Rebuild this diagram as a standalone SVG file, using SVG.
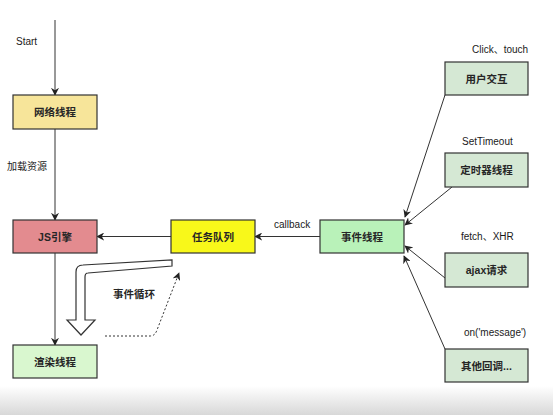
<svg xmlns="http://www.w3.org/2000/svg" width="553" height="415" viewBox="0 0 553 415">
<defs>
<style>
.box{stroke:#333;stroke-width:1.2}
.t{font-family:"Liberation Sans","Noto Sans CJK SC",sans-serif;font-size:10.5px;font-weight:bold;fill:#262626;text-anchor:middle;dominant-baseline:central}
.l{font-family:"Liberation Sans","Noto Sans CJK SC",sans-serif;font-size:10px;fill:#1a1a1a;dominant-baseline:central}
.e{fill:none;stroke:#333;stroke-width:1}
</style>
<marker id="ah" viewBox="0 0 10 10" refX="9" refY="5" markerWidth="8" markerHeight="8" orient="auto" markerUnits="userSpaceOnUse">
<path d="M0,0 L10,5 L0,10 L3,5 Z" fill="#222"/>
</marker>
<linearGradient id="bg" x1="0" y1="0" x2="0" y2="1">
<stop offset="0" stop-color="#ffffff"/>
<stop offset="1" stop-color="#d8d8d8"/>
</linearGradient>
</defs>
<rect width="553" height="415" fill="#fff"/>
<rect x="0" y="386" width="553" height="29" fill="url(#bg)"/>

<g id="connectors">
<line class="e" x1="55" y1="20" x2="55" y2="95" marker-end="url(#ah)"/>
<line class="e" x1="55" y1="129" x2="55" y2="220" marker-end="url(#ah)"/>
<line class="e" x1="55" y1="253" x2="55" y2="345" marker-end="url(#ah)"/>
<line class="e" x1="171" y1="236.5" x2="97" y2="236.5" marker-end="url(#ah)"/>
<line class="e" x1="320" y1="236.5" x2="255" y2="236.5" marker-end="url(#ah)"/>
<line class="e" x1="445" y1="95" x2="405" y2="217" marker-end="url(#ah)"/>
<line class="e" x1="452" y1="187" x2="405" y2="225" marker-end="url(#ah)"/>
<line class="e" x1="445" y1="278" x2="405" y2="246" marker-end="url(#ah)"/>
<line class="e" x1="445" y1="349" x2="404" y2="256" marker-end="url(#ah)"/>
<path d="M172,260 L172,266 L88,273 Q85,273 85,277 L85,320 L95,320 L81,335 L67,320 L76,320 L76,272 Q76,265 83,265 Z" fill="#fff" stroke="#333" stroke-width="1.2"/>
<path d="M105,336 L150,336 Q155,336 157,330 L179,273" fill="none" stroke="#333" stroke-width="1" stroke-dasharray="2,2" marker-end="url(#ah)"/>
<text class="l" x="16" y="41">Start</text>
<text class="l" x="7" y="166">加载资源</text>
<text class="l" x="274" y="224">callback</text>
<text class="t" x="134" y="294">事件循环</text>
</g>

<g id="n-network"><rect class="box" x="13" y="95" width="84" height="34" fill="#f7e59a"/><text class="t" x="55" y="112">网络线程</text></g>
<g id="n-js"><rect class="box" x="13" y="220" width="84" height="33" fill="#e38b8f"/><text class="t" x="55" y="236.5">JS引擎</text></g>
<g id="n-render"><rect class="box" x="13" y="345" width="84" height="33" fill="#d9f7cf"/><text class="t" x="55" y="361.5">渲染线程</text></g>
<g id="n-queue"><rect class="box" x="171" y="220" width="84" height="33" fill="#f8f81a"/><text class="t" x="213" y="236.5">任务队列</text></g>
<g id="n-event"><rect class="box" x="320" y="220" width="84" height="33" fill="#b9f2b9"/><text class="t" x="362" y="236.5">事件线程</text></g>
<g id="n-user"><text class="l" x="472" y="49">Click、touch</text><rect class="box" x="445" y="62" width="83" height="33" fill="#d5e8d4"/><text class="t" x="486.5" y="78.5">用户交互</text></g>
<g id="n-timer"><text class="l" x="462" y="141">SetTimeout</text><rect class="box" x="445" y="153" width="83" height="34" fill="#d5e8d4"/><text class="t" x="486.5" y="170">定时器线程</text></g>
<g id="n-ajax"><text class="l" x="461" y="236">fetch、XHR</text><rect class="box" x="445" y="253" width="83" height="34" fill="#d5e8d4"/><text class="t" x="486.5" y="270">ajax请求</text></g>
<g id="n-other"><text class="l" x="464" y="332">on('message')</text><rect class="box" x="445" y="349" width="83" height="33" fill="#d5e8d4"/><text class="t" x="486.5" y="365.5">其他回调...</text></g>
</svg>
